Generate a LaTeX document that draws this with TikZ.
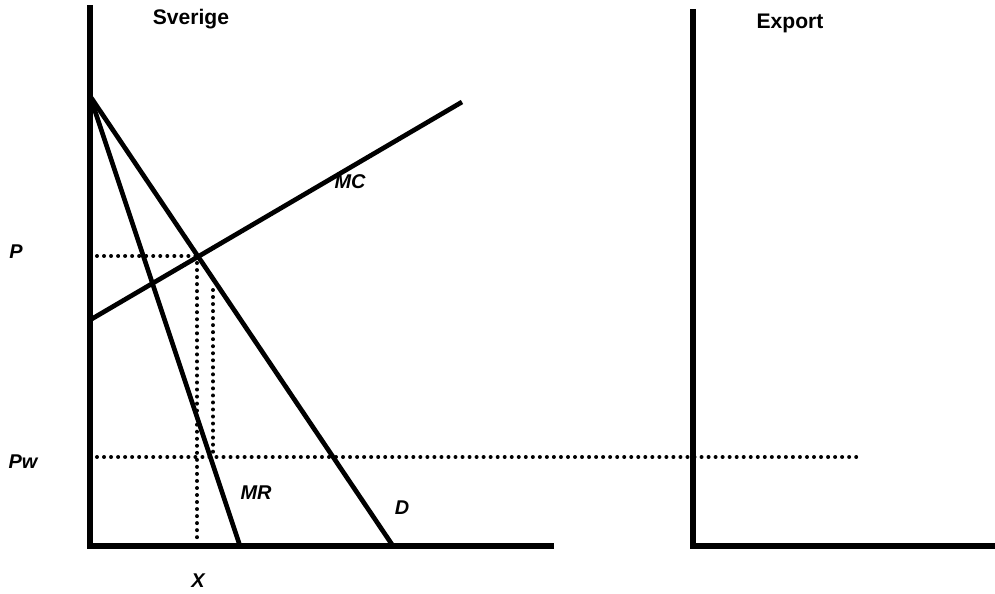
\documentclass[tikz,border=0pt]{standalone}
\usepackage{fontspec}
\setmainfont{Liberation Sans}
\usepackage{tikz}
\usetikzlibrary{calc}
\tikzstyle{axis} = [line width=4.6pt, line cap=rect]
\tikzstyle{curve} = [line width=4pt]
\tikzstyle{guide} = [line width=3.4pt, line cap=round, dash pattern=on 0pt off 6pt]
\tikzstyle{lbl} = [font=\fontsize{17}{20}\selectfont\bfseries\itshape, inner sep=0pt]
\tikzstyle{title} = [font=\fontsize{18}{21}\selectfont\bfseries, inner sep=0pt]

\begin{document}
\begin{tikzpicture}[x=0.03cm, y=-0.03cm]
    \useasboundingbox (0,0) rectangle (995,594);
    % Sverige panel
    
\coordinate (top) at (90,8);
    
\coordinate (orig) at (90,546);
    
\coordinate (xend) at (551,546);
    
\coordinate (dtop) at (90,96);
    
\coordinate (mcstart) at (90,320);
    
\coordinate (mcend) at (462,102);
    
\coordinate (dend) at (393,546);
    
\coordinate (mrend) at (240,546);
    
\coordinate (eq) at (197,256);
    
\coordinate (pleft) at (97,256);
    
\coordinate (eqfoot) at (197,544);
    
\coordinate (mrtop) at (213,290);
    
\coordinate (mrfoot) at (213,455);
    
\coordinate (pwleft) at (97,457);
    
\coordinate (pwright) at (862,457);
    
    % Export panel
    
\coordinate (etop) at (693,12);
    
\coordinate (eorig) at (693,546);
    
\coordinate (eend) at (995,546);
    
    % Labels
    
\node[title] (sverige) at (191,19) {Sverige};
    
\node[title] (export) at (790,23) {Export};
    
\node[lbl] (mc) at (350,182) {MC};
    
\node[lbl] (p) at (16,252) {P};
    
\node[lbl] (pw) at (23,462) {Pw};
    
\node[lbl] (mr) at (256,493) {MR};
    
\node[lbl] (d) at (402,508) {D};
    
\node[lbl] (x) at (198,581) {X};
    
    % Axes
    \draw[axis] (top) -- (orig) -- (xend);
    \draw[axis] (etop) -- (eorig) -- (eend);
    
    % Curves
    \draw[curve] (mcstart) -- (mcend);
    \draw[curve] (dtop) -- (dend);
    \draw[curve] (dtop) -- (mrend);
    
    % Dotted guides
    \draw[guide] (pleft) -- (eq);
    \draw[guide] (eq) -- (eqfoot);
    \draw[guide] (mrtop) -- (mrfoot);
    \draw[guide] (pwleft) -- (pwright);
\end{tikzpicture}
\end{document}
